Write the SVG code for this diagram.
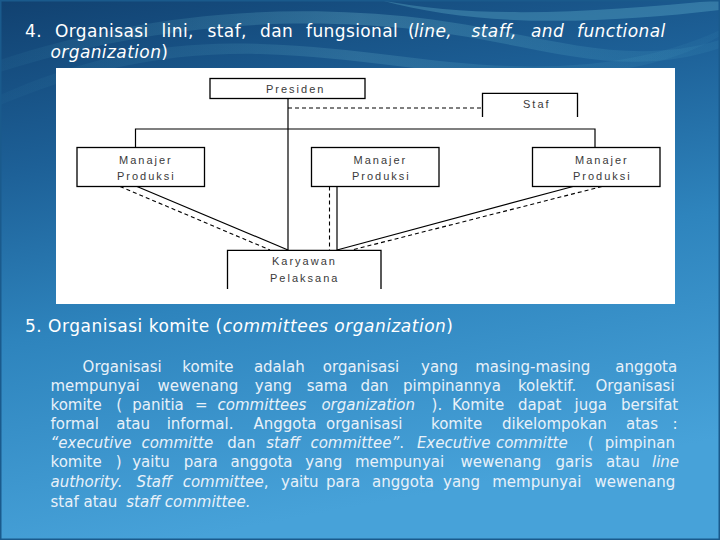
<svg xmlns="http://www.w3.org/2000/svg" width="720" height="540" viewBox="0 0 720 540">
<defs>
<linearGradient id="bg" x1="0" y1="0" x2="0.25" y2="1">
<stop offset="0" stop-color="#114170"/>
<stop offset="0.3" stop-color="#1d6097"/>
<stop offset="0.6" stop-color="#2e84bd"/>
<stop offset="1" stop-color="#47a2d9"/>
</linearGradient>
<linearGradient id="sw" x1="0" y1="0" x2="1" y2="0">
<stop offset="0" stop-color="#5fc3d8" stop-opacity="0.1"/>
<stop offset="0.5" stop-color="#8fe0e8" stop-opacity="0.45"/>
<stop offset="1" stop-color="#5fc3d8" stop-opacity="0.15"/>
</linearGradient>
<style>
.h{font-family:"DejaVu Sans","Liberation Sans",sans-serif;font-size:17px;fill:#ffffff;letter-spacing:0.4px}
.p{font-family:"DejaVu Sans","Liberation Sans",sans-serif;font-size:15px;fill:#e8f1f9}
.i{font-style:italic}
.n{fill:none;stroke:#000;stroke-width:1.3}
.t{font-family:"Liberation Sans",Arial,sans-serif;font-size:11px;fill:#3a3a3a;letter-spacing:2px}
.s{stroke:#000;stroke-width:1.2;fill:none}
.d{stroke:#000;stroke-width:1.1;fill:none;stroke-dasharray:4 3}
</style>
</defs>
<rect x="0" y="0" width="720" height="540" fill="url(#bg)"/>
<path d="M0,60 C120,20 260,0 420,18 C540,32 620,70 720,40 L720,48 C620,82 540,44 420,30 C260,12 120,34 0,72 Z" fill="url(#sw)" opacity="0.5"/>
<path d="M0,95 C80,60 160,40 260,44 C380,48 450,70 560,66 C640,62 690,44 720,30 L720,36 C690,54 640,72 560,76 C450,80 380,58 260,54 C160,52 80,72 0,105 Z" fill="url(#sw)" opacity="0.35"/>
<path d="M380,0 C480,20 600,12 720,0 L720,10 C600,24 480,28 380,0 Z" fill="#7fd6e6" opacity="0.25"/>
<rect x="0.5" y="0.5" width="719" height="539" fill="none" stroke="#1a5a8c" stroke-width="2"/>

<g id="heading4" class="h">
<text y="36.5"><tspan x="25">4.</tspan><tspan x="55">Organisasi</tspan><tspan x="161.5">lini,</tspan><tspan x="207.5">staf,</tspan><tspan x="260">dan</tspan><tspan x="306">fungsional</tspan><tspan x="408">(</tspan><tspan x="414" class="i">line,</tspan><tspan x="471.5" class="i">staff,</tspan><tspan x="531" class="i">and</tspan><tspan x="577" class="i">functional</tspan></text>
<text y="57.5"><tspan x="50.5" class="i">organization</tspan><tspan>)</tspan></text>
</g>

<rect id="diagram-bg" x="56" y="68" width="619" height="236" fill="#ffffff"/>

<g id="connectors">
<line class="s" x1="288" y1="98.5" x2="288" y2="250"/>
<line class="d" x1="288" y1="108" x2="482.5" y2="108"/>
<polyline class="s" points="135.5,147.5 135.5,129 595,129 595,147.5"/>
<line class="s" x1="137" y1="186.5" x2="288" y2="250"/>
<line class="d" x1="120" y1="186.5" x2="270" y2="250"/>
<line class="d" x1="329.5" y1="186.5" x2="329.5" y2="250"/>
<line class="s" x1="337" y1="186.5" x2="337" y2="250"/>
<line class="s" x1="573" y1="186.5" x2="337" y2="250"/>
<line class="d" x1="602" y1="186.5" x2="352" y2="250"/>
</g>

<g id="presiden">
<rect class="n" x="210" y="78.5" width="155" height="20"/>
<text class="t" x="266" y="93">Presiden</text>
</g>
<g id="staf">
<polyline class="n" points="482.5,117 482.5,93.3 577.5,93.3 577.5,117"/>
<text class="t" x="523" y="108">Staf</text>
</g>
<g id="manajer-1">
<rect class="n" x="77" y="147.5" width="127.5" height="39"/>
<text class="t" x="119" y="164">Manajer</text>
<text class="t" x="117" y="180">Produksi</text>
</g>
<g id="manajer-2">
<rect class="n" x="311.5" y="147.5" width="127.5" height="39"/>
<text class="t" x="353.5" y="164">Manajer</text>
<text class="t" x="352" y="180">Produksi</text>
</g>
<g id="manajer-3">
<rect class="n" x="532.5" y="147.5" width="127.5" height="39"/>
<text class="t" x="575" y="164">Manajer</text>
<text class="t" x="573" y="180">Produksi</text>
</g>
<g id="karyawan">
<polyline class="n" points="227.5,289 227.5,250.3 381,250.3 381,289" stroke-width="1.6"/>
<text class="t" x="272" y="265">Karyawan</text>
<text class="t" x="270" y="282">Pelaksana</text>
</g>

<g id="heading5" class="h">
<text y="331.5" x="25" style="letter-spacing:0.5px">5. Organisasi komite (<tspan class="i">committees organization</tspan>)</text>
</g>

<g id="paragraph" class="p">
<text y="372"><tspan x="82.6">Organisasi</tspan><tspan x="182.3">komite</tspan><tspan x="253.9">adalah</tspan><tspan x="322.8">organisasi</tspan><tspan x="421">yang</tspan><tspan x="475.2">masing-masing</tspan><tspan x="615.2">anggota</tspan></text>
<text y="391"><tspan x="50.5">mempunyai</tspan><tspan x="157.5">wewenang</tspan><tspan x="254.8">yang</tspan><tspan x="306.7">sama</tspan><tspan x="360.4">dan</tspan><tspan x="403.1">pimpinannya</tspan><tspan x="517.9">kolektif.</tspan><tspan x="595.5">Organisasi</tspan></text>
<text y="410"><tspan x="50.5">komite</tspan><tspan x="116.2">(</tspan><tspan x="132.2">panitia</tspan><tspan x="195.1">=</tspan><tspan x="217.5" class="i">committees</tspan><tspan x="321.4" class="i">organization</tspan><tspan x="431.6">).</tspan><tspan x="452">Komite</tspan><tspan x="518">dapat</tspan><tspan x="574.5">juga</tspan><tspan x="621">bersifat</tspan></text>
<text y="429"><tspan x="50.5">formal</tspan><tspan x="116.2">atau</tspan><tspan x="166.7">informal.</tspan><tspan x="253.4">Anggota</tspan><tspan x="326">organisasi</tspan><tspan x="431">komite</tspan><tspan x="502">dikelompokan</tspan><tspan x="626">atas</tspan><tspan x="672.6">:</tspan></text>
<text y="448"><tspan x="50.5" class="i">“executive</tspan><tspan x="141.4" class="i">committe</tspan><tspan x="227.3">dan</tspan><tspan x="266.3" class="i">staff</tspan><tspan x="310.4" class="i">committee”</tspan><tspan>.</tspan><tspan x="416.9" class="i">Executive</tspan><tspan x="495.9" class="i">committe</tspan><tspan x="587.7">(</tspan><tspan x="604.7">pimpinan</tspan></text>
<text y="467"><tspan x="50.5">komite</tspan><tspan x="115.7">)</tspan><tspan x="132.2">yaitu</tspan><tspan x="183.7">para</tspan><tspan x="230.5">anggota</tspan><tspan x="305.3">yang</tspan><tspan x="354.9">mempunyai</tspan><tspan x="460.5">wewenang</tspan><tspan x="555.6">garis</tspan><tspan x="606">atau</tspan><tspan x="652" class="i">line</tspan></text>
<text y="487"><tspan x="50.5" class="i">authority.</tspan><tspan x="136.4" class="i">Staff</tspan><tspan x="182.7" class="i">committee</tspan><tspan>,</tspan><tspan x="281">yaitu</tspan><tspan x="326">para</tspan><tspan x="372">anggota</tspan><tspan x="443">yang</tspan><tspan x="492.2">mempunyai</tspan><tspan x="594.6">wewenang</tspan></text>
<text y="506.5"><tspan x="50.5">staf atau</tspan><tspan x="126.3" class="i">staff committee.</tspan></text>
</g>
</svg>
